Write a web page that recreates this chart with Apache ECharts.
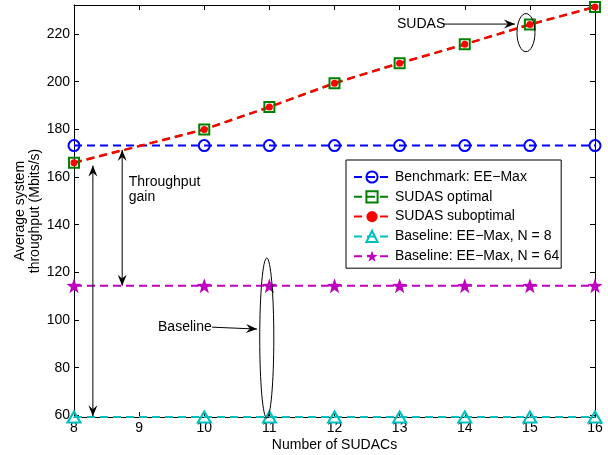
<!DOCTYPE html>
<html><head><meta charset="utf-8">
<script src="https://cdn.jsdelivr.net/npm/echarts@6/dist/echarts.min.js"></script>
<style>html,body{margin:0;padding:0;background:#fff}#c{width:608px;height:455px}</style>
</head><body><div id="c"></div>
<script>
// ---- data ----
const xValues = [8, 10, 11, 12, 13, 14, 15, 16];
const benchmarkEEMax = [173.2, 173.2, 173.2, 173.2, 173.2, 173.2, 173.2, 173.2];
const sudasOptimal = [166.0, 180.0, 189.4, 199.4, 207.8, 215.7, 224.0, 231.4];
const sudasSuboptimal = [166.0, 180.0, 189.4, 199.4, 207.8, 215.7, 224.0, 231.4];
const baselineN8 = [59.3, 59.3, 59.3, 59.3, 59.3, 59.3, 59.3, 59.3];
const baselineN64 = [114.4, 114.4, 114.4, 114.4, 114.4, 114.4, 114.4, 114.4];
const yTickValues = [60, 80, 100, 120, 140, 160, 180, 200, 220];
const seriesNames = ['Benchmark: EE\u2212Max', 'SUDAS optimal', 'SUDAS suboptimal',
  'Baseline: EE\u2212Max, N = 8', 'Baseline: EE\u2212Max, N = 64'];

const FONT = 'Liberation Sans, Arial, Helvetica, sans-serif';
const FS = 14;
const YMIN = 59.3, YMAX = 232.2;
const STAR = 'path://M0,-10L2.35,-3.24L9.51,-3.09L3.8,1.24L5.88,8.09L0,4L-5.88,8.09L-3.8,1.24L-9.51,-3.09L-2.35,-3.24Z';
const DASH = [8, 5];

function pairs(ys) { return xValues.map((x, i) => [x, ys[i]]); }

const chart = echarts.init(document.getElementById('c'), null, {renderer: 'canvas'});

const axisCommon = {
  axisLine: {show: true, onZero: false, lineStyle: {color: '#000', width: 1}},
  axisTick: {show: true, inside: true, length: 5, lineStyle: {color: '#000'}},
  splitLine: {show: false}
};

const option = {
  animation: false,
  backgroundColor: '#fff',
  textStyle: {fontFamily: FONT},
  grid: {left: 74, right: 13, top: 5, bottom: 38, containLabel: false, outerBoundsMode: 'none'},
  xAxis: [
    Object.assign({}, axisCommon, {
      type: 'value', min: 8, max: 16, interval: 1, position: 'bottom',
      axisLabel: {color: '#000', fontSize: FS, fontFamily: FONT, margin: 4},
      name: 'Number of SUDACs', nameLocation: 'middle', nameGap: 21, nameMoveOverlap: false,
      nameTextStyle: {color: '#000', fontSize: FS, fontFamily: FONT}
    }),
    Object.assign({}, axisCommon, {
      type: 'value', min: 8, max: 16, interval: 1, position: 'top',
      axisLabel: {show: false}
    })
  ],
  yAxis: [
    Object.assign({}, axisCommon, {
      type: 'value', min: YMIN, max: YMAX, position: 'left',
      axisTick: {show: true, inside: true, length: 5, lineStyle: {color: '#000'}, customValues: yTickValues},
      axisLabel: {color: '#000', fontSize: FS, fontFamily: FONT, margin: 4, customValues: yTickValues},
      name: 'Average system\nthroughput (Mbits/s)', nameLocation: 'middle', nameGap: 31, nameMoveOverlap: false,
      nameTextStyle: {color: '#000', fontSize: FS, fontFamily: FONT, lineHeight: 15}
    }),
    Object.assign({}, axisCommon, {
      type: 'value', min: YMIN, max: YMAX, position: 'right',
      axisTick: {show: true, inside: true, length: 5, lineStyle: {color: '#000'}, customValues: yTickValues},
      axisLabel: {show: false, customValues: yTickValues}
    })
  ],
  legend: {
    orient: 'vertical', left: 346, top: 160,
    padding: [10, 2, 5, 7], itemGap: 5.8, itemWidth: 36, itemHeight: 14,
    backgroundColor: '#fff', borderColor: '#000', borderWidth: 1,
    textStyle: {color: '#000', fontSize: FS, fontFamily: FONT},
    data: seriesNames
  },
  series: [
    {
      name: seriesNames[0], type: 'line', data: pairs(benchmarkEEMax), clip: false,
      symbol: 'circle', symbolSize: 11,
      itemStyle: {color: 'rgba(0,0,0,0)', borderColor: '#0000ff', borderWidth: 2},
      lineStyle: {color: '#0000ff', width: 2, type: DASH}
    },
    {
      name: seriesNames[1], type: 'line', data: pairs(sudasOptimal), clip: false,
      symbol: 'rect', symbolSize: 10,
      itemStyle: {color: 'rgba(0,0,0,0)', borderColor: '#008000', borderWidth: 2},
      lineStyle: {color: '#008000', width: 2, type: DASH}
    },
    {
      name: seriesNames[2], type: 'line', data: pairs(sudasSuboptimal), clip: false,
      symbol: 'circle', symbolSize: 7,
      itemStyle: {color: '#ff0000'},
      lineStyle: {color: '#ff0000', width: 2.5, type: DASH}
    },
    {
      name: seriesNames[3], type: 'line', data: pairs(baselineN8), clip: false,
      symbol: 'triangle', symbolSize: [13, 11],
      itemStyle: {color: 'rgba(0,0,0,0)', borderColor: '#00bfbf', borderWidth: 2},
      lineStyle: {color: '#00bfbf', width: 2, type: DASH}
    },
    {
      name: seriesNames[4], type: 'line', data: pairs(baselineN64), clip: false,
      symbol: STAR, symbolSize: 15,
      itemStyle: {color: '#bf00bf'},
      lineStyle: {color: '#bf00bf', width: 2, type: DASH}
    }
  ]
};
chart.setOption(option);

// ---- annotations (anchored in data coordinates) ----
const ann = {
  sudasText: [12.96, 224.2],
  sudasArrow: [[13.67, 224.2], [14.77, 224.2]],
  sudasEllipse: {c: [14.94, 220.6], rx: 0.138, ry: 8.0},
  gain1: [[8.29, 59.6], [8.29, 164.8]],
  gain2: [[8.74, 114.4], [8.74, 171.4]],
  gainText: [8.84, 154.6],
  baseText: [9.29, 97.0],
  baseArrow: [[10.12, 97.0], [10.81, 96.2]],
  baseEllipse: {c: [10.96, 92.4], rx: 0.108, ry: 33.6}
};
function px(p) { return chart.convertToPixel({xAxisIndex: 0, yAxisIndex: 0}, p); }
function arrowHead(tip, from) {
  const dx = tip[0] - from[0], dy = tip[1] - from[1];
  const len = Math.hypot(dx, dy); const ux = dx / len, uy = dy / len;
  const L = 11, W = 4.5;
  const bx = tip[0] - ux * L, by = tip[1] - uy * L;
  const nx = tip[0] - ux * L * 0.65, ny = tip[1] - uy * L * 0.65;
  return {type: 'polygon', shape: {points: [tip, [bx - uy * W, by + ux * W], [nx, ny], [bx + uy * W, by - ux * W]]},
    style: {fill: '#000'}, z: 100};
}
function arrowLine(a, b, both) {
  const A = px(a), B = px(b);
  const els = [{type: 'line', shape: {x1: A[0], y1: A[1], x2: B[0], y2: B[1]}, style: {stroke: '#000', lineWidth: 1}, z: 100},
    arrowHead(B, A)];
  if (both) els.push(arrowHead(A, B));
  return els;
}
function ellipse(e) {
  const c = px(e.c); const r1 = px([e.c[0] + e.rx, e.c[1] + e.ry]);
  return {type: 'ellipse', shape: {cx: c[0], cy: c[1], rx: Math.abs(r1[0] - c[0]), ry: Math.abs(r1[1] - c[1])},
    style: {fill: 'none', stroke: '#000', lineWidth: 1}, z: 100};
}
function label(p, text, align) {
  const P = px(p);
  return {type: 'text', x: P[0], y: P[1], z: 100,
    style: {text: text, fill: '#000', font: FS + 'px ' + FONT, textAlign: align || 'left', textVerticalAlign: 'middle', lineHeight: 15}};
}
const gfx = [].concat(
  [label(ann.sudasText, 'SUDAS')],
  arrowLine(ann.sudasArrow[0], ann.sudasArrow[1], false),
  [ellipse(ann.sudasEllipse)],
  arrowLine(ann.gain1[0], ann.gain1[1], true),
  arrowLine(ann.gain2[0], ann.gain2[1], true),
  [label(ann.gainText, 'Throughput\ngain')],
  [label(ann.baseText, 'Baseline')],
  arrowLine(ann.baseArrow[0], ann.baseArrow[1], false),
  [ellipse(ann.baseEllipse)]
);
chart.setOption({graphic: gfx});
</script></body></html>
